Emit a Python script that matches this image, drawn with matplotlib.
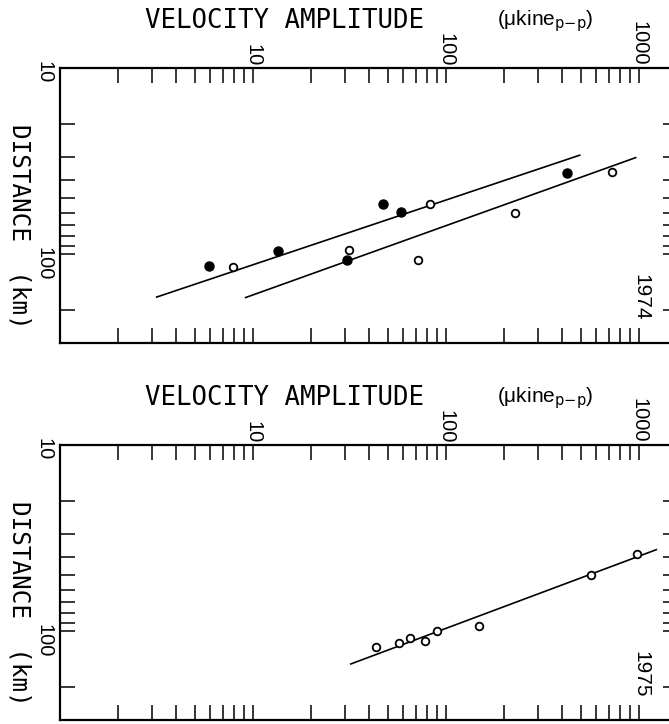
import numpy as np
import matplotlib
matplotlib.use("Agg")
from matplotlib import pyplot as plt
from matplotlib import ticker

# 1974: two station groups (filled / open) with a fitted line each
vel_1974_filled = [5.9, 13.5, 30.8, 47.3, 58.3, 425]
dist_1974_filled = [116, 96, 108, 54, 59, 36.5]
vel_1974_open = [7.85, 31.6, 71.9, 83.3, 228, 731]
dist_1974_open = [117, 95, 107, 54, 60, 36]
line_1974_a_vel = [3.17, 495]
line_1974_a_dist = [170, 29.4]
line_1974_b_vel = [9.17, 965]
line_1974_b_dist = [171, 30.3]

# 1975
vel_1975_open = [43.7, 57.3, 65.6, 78.2, 89.8, 149, 566, 980]
dist_1975_open = [122, 116, 109, 113, 100, 94, 50, 38.7]
line_1975_vel = [32.2, 1235]
line_1975_dist = [150, 36.5]

years = ["1974", "1975"]
x_ticks = [10, 100, 1000]
y_ticks = [10, 100]
XLIM = (1, 1600)
YLIM = (300, 10)

W, H = 669, 724
fig = plt.figure(figsize=(W / 100, H / 100), dpi=100)

MONO = "DejaVu Sans Mono"
SANS = "Liberation Sans"

# pixel layout of the two panels (left, top, right, bottom)
panels_px = [(60, 68, 678, 343), (60, 445, 678, 720)]


def setup_axes(ax):
    ax.set_xscale("log")
    ax.set_yscale("log")
    ax.set_xlim(*XLIM)
    ax.set_ylim(*YLIM)
    ax.xaxis.set_major_locator(ticker.FixedLocator(x_ticks))
    ax.xaxis.set_minor_locator(ticker.LogLocator(base=10, subs=range(2, 10), numticks=20))
    ax.yaxis.set_major_locator(ticker.FixedLocator(y_ticks))
    ax.yaxis.set_minor_locator(ticker.LogLocator(base=10, subs=range(2, 10), numticks=20))
    ax.xaxis.set_major_formatter(ticker.FuncFormatter(lambda v, p: f"{v:g}"))
    ax.yaxis.set_major_formatter(ticker.FuncFormatter(lambda v, p: f"{v:g}"))
    ax.xaxis.set_minor_formatter(ticker.NullFormatter())
    ax.yaxis.set_minor_formatter(ticker.NullFormatter())
    ax.tick_params(which="both", direction="in", length=10.5, width=1.1,
                   top=True, bottom=True, left=True, right=True,
                   labeltop=True, labelbottom=False, labelleft=True, labelright=False)
    ax.tick_params(axis="x", pad=1.5)
    ax.tick_params(axis="y", pad=5)
    for lab in ax.get_xticklabels() + ax.get_yticklabels():
        lab.set_rotation(270)
        lab.set_fontfamily(SANS)
        lab.set_fontsize(14.5)
    for s in ax.spines.values():
        s.set_linewidth(1.6)


axes = []
for (l, t, r, b) in panels_px:
    ax = fig.add_axes([l / W, 1 - b / H, (r - l) / W, (b - t) / H])
    setup_axes(ax)
    axes.append(ax)

    # titles above the panel
    fig.text(145 / W, 1 - (t - 47) / H, "VELOCITY AMPLITUDE", family=MONO,
             fontsize=18.5, ha="left", va="center")
    fig.text(497 / W, 1 - (t - 47) / H, r"(μkine$_{\mathrm{p{-}p}}$)", family=SANS,
             fontsize=15, ha="left", va="center")
    fig.text(19 / W, 1 - (t + 158) / H, "DISTANCE  (km)", family=MONO,
             fontsize=17.5, rotation=270, ha="center", va="center")

ax1, ax2 = axes

ax1.plot(line_1974_a_vel, line_1974_a_dist, color="black", lw=1.2)
ax1.plot(line_1974_b_vel, line_1974_b_dist, color="black", lw=1.2)
ax1.plot(vel_1974_filled, dist_1974_filled, "o", color="black", ms=6.5, zorder=3)
ax1.plot(vel_1974_open, dist_1974_open, "o", mfc="white", mec="black", mew=1.3, ms=5.5, zorder=3)

ax2.plot(line_1975_vel, line_1975_dist, color="black", lw=1.2)
ax2.plot(vel_1975_open, dist_1975_open, "o", mfc="white", mec="black", mew=1.3, ms=5.5, zorder=3)

for ax, yr in zip(axes, years):
    ax.text(0.9395, 0.165, yr, transform=ax.transAxes, rotation=270,
            family=SANS, fontsize=15, ha="center", va="center")

fig.savefig("out.png", dpi=100)
